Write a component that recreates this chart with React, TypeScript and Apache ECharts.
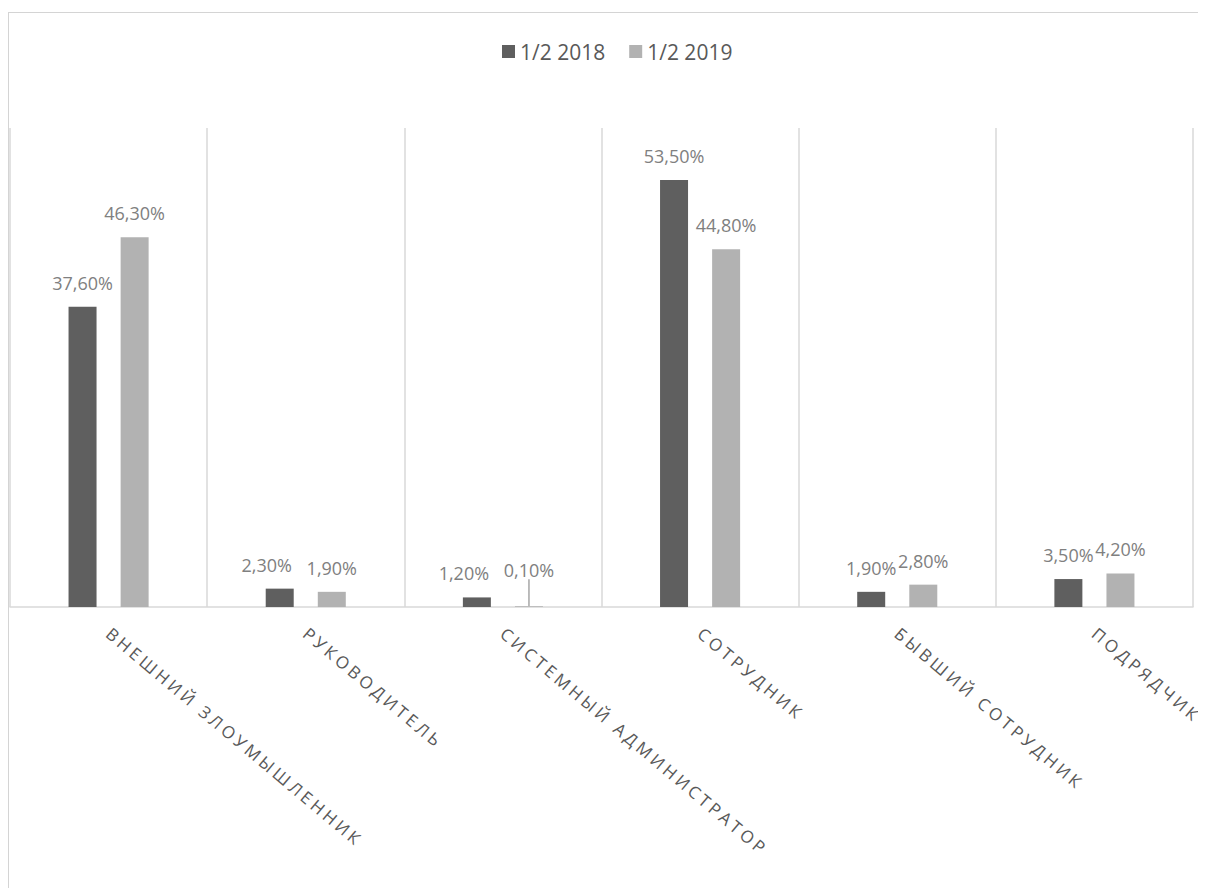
import React, { useEffect, useRef } from "react";
import * as echarts from "echarts";

const categories = [
  "ВНЕШНИЙ ЗЛОУМЫШЛЕННИК",
  "РУКОВОДИТЕЛЬ",
  "СИСТЕМНЫЙ АДМИНИСТРАТОР",
  "СОТРУДНИК",
  "БЫВШИЙ СОТРУДНИК",
  "ПОДРЯДЧИК",
];
const seriesNames = ["1/2 2018", "1/2 2019"];
const values2018 = [37.6, 2.3, 1.2, 53.5, 1.9, 3.5];
const values2019 = [46.3, 1.9, 0.1, 44.8, 2.8, 4.2];
// index of the bar whose label is lifted with a leader line
const leaderIndex2019 = 2;

const FONT = "'Open Sans', 'Noto Sans', sans-serif";
const fmt = (v: number) => v.toFixed(2).replace(".", ",") + "%";

export default function App() {
  const ref = useRef<HTMLDivElement>(null);
  useEffect(() => {
    if (!ref.current) return;
    const chart = echarts.init(ref.current, undefined, { renderer: "svg" });
    const labelBase = {
      show: true,
      position: "top",
      distance: 15,
      color: "#808080",
      fontSize: 18,
      fontFamily: FONT,
      formatter: (p: any) => fmt(p.value),
    };
    chart.setOption({
      animation: false,
      backgroundColor: "#ffffff",
      legend: {
        top: 23,
        left: 488,
        itemWidth: 13,
        itemHeight: 13,
        itemGap: 24,
        icon: "rect",
        textStyle: { color: "#595959", fontSize: 21, fontFamily: FONT },
        data: seriesNames,
      },
      grid: { left: 1, right: 15, top: 115, bottom: 285, containLabel: false },
      xAxis: {
        type: "category",
        data: categories,
        axisLine: { show: true, lineStyle: { color: "#d9d9d9", width: 1.5 } },
        axisTick: { show: false },
        splitLine: { show: true, lineStyle: { color: "#d9d9d9", width: 1.5 } },
        axisLabel: {
          rotate: -40,
          interval: 0,
          margin: 24,
          color: "#595959",
          fontSize: 17,
          fontFamily: FONT,
        },
      },
      yAxis: {
        type: "value",
        min: 0,
        max: 60,
        show: false,
        splitLine: { show: false },
      },
      series: [
        {
          name: seriesNames[0],
          type: "bar",
          data: values2018,
          barWidth: 28,
          barGap: "86%",
          itemStyle: { color: "#5f5f5f" },
          label: labelBase,
          labelLayout: (p: any) => (p.dataIndex === 1 || p.dataIndex === 2 ? { dx: -13 } : {}),
        },
        {
          name: seriesNames[1],
          type: "bar",
          data: values2019.map((v, i) =>
            i === leaderIndex2019
              ? { value: v, labelLine: { show: true, lineStyle: { color: "#a6a6a6", width: 1.5 } } }
              : { value: v }
          ),
          barWidth: 28,
          barGap: "86%",
          itemStyle: { color: "#b2b2b2" },
          label: labelBase,
          labelLine: { show: false },
          labelLayout: (p: any) => (p.dataIndex === leaderIndex2019 ? { dy: -12 } : {}),
        },
      ],
    });
    // emulate the letter-spaced category labels of the original
    const texts = ref.current.querySelectorAll("text");
    texts.forEach((t) => {
      if (categories.includes((t.textContent || "").trim())) {
        (t as SVGTextElement).style.letterSpacing = "3.5px";
      }
    });
    return () => chart.dispose();
  }, []);
  return (
    <div
      style={{
        marginTop: 4,
        width: 1200,
        height: 880,
        borderTop: "1px solid #d4d4d4",
        borderLeft: "1px solid #d4d4d4",
        boxSizing: "border-box",
      }}
    >
      <div ref={ref} style={{ width: 1199, height: 879 }} />
    </div>
  );
}
